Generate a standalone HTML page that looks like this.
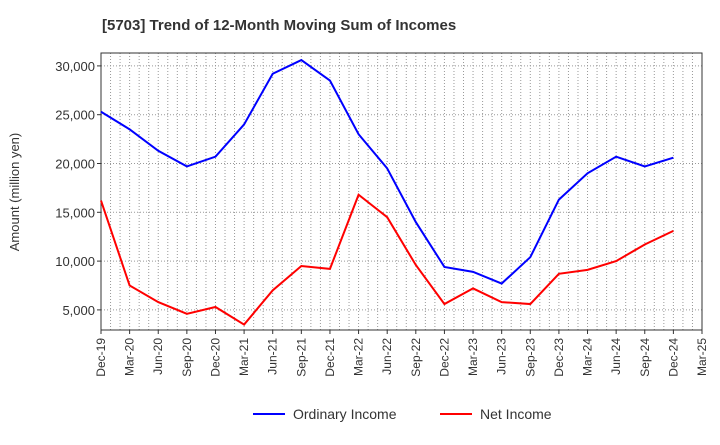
<!DOCTYPE html>
<html><head><meta charset="utf-8"><style>
body{margin:0;background:#fff;font-family:"Liberation Sans",sans-serif;}
</style></head><body>
<svg width="720" height="440" xmlns="http://www.w3.org/2000/svg" font-family="Liberation Sans, sans-serif">
<text x="102" y="30" font-size="15" font-weight="bold" fill="#333">[5703]  Trend of 12-Month Moving Sum of Incomes</text>
<text transform="translate(19,192) rotate(-90)" text-anchor="middle" font-size="13" fill="#333">Amount (million yen)</text>
<g id="grid"></g><g id="axes"></g><g id="series"></g>
<g>
<line x1="253" y1="414" x2="285" y2="414" stroke="#0000ff" stroke-width="2"/>
<text x="293" y="419" font-size="14" fill="#333">Ordinary Income</text>
<line x1="440" y1="414" x2="472" y2="414" stroke="#ff0000" stroke-width="2"/>
<text x="480" y="419" font-size="14" fill="#333">Net Income</text>
</g>
</svg>
<script>
const categories=["Dec-19","Mar-20","Jun-20","Sep-20","Dec-20","Mar-21","Jun-21","Sep-21","Dec-21","Mar-22","Jun-22","Sep-22","Dec-22","Mar-23","Jun-23","Sep-23","Dec-23","Mar-24","Jun-24","Sep-24","Dec-24","Mar-25"];
const ordinaryIncome=[25300,23500,21300,19700,20700,24000,29200,30600,28500,23000,19500,14000,9400,8900,7700,10400,16300,19000,20700,19700,20600];
const netIncome=[16200,7500,5800,4600,5300,3500,7000,9500,9200,16800,14500,9600,5600,7200,5800,5600,8700,9100,10000,11700,13100];
const yTicks=[5000,10000,15000,20000,25000,30000];
const NS="http://www.w3.org/2000/svg";
const L=101,R=702,T=53,B=330;
const qw=(R-L)/(categories.length-1);
const xq=i=>L+i*qw;
const y=v=>358.7-v*48.8/5000;
function mk(tag,attrs,parent){const e=document.createElementNS(NS,tag);for(const k in attrs)e.setAttribute(k,attrs[k]);parent.appendChild(e);return e;}
const grid=document.getElementById('grid'),axes=document.getElementById('axes'),ser=document.getElementById('series');
for(let m=1;m<(categories.length-1)*3;m++){const x=L+m*qw/3;
const g=mk('line',{x1:x,x2:x,y1:T,y2:B,stroke:'#999','stroke-dasharray':'1,2','stroke-width':1},grid);

}
yTicks.forEach(v=>{const g=mk('line',{x1:L,x2:R,y1:y(v),y2:y(v),stroke:'#999','stroke-dasharray':'1,2'},grid);


const t=mk('text',{x:L-6,y:y(v)+5,'text-anchor':'end','font-size':13,fill:'#333'},axes);t.textContent=v.toLocaleString('en-US');


mk('line',{x1:L-4,x2:L,y1:y(v),y2:y(v),stroke:'#333'},axes);});
const fr=mk('rect',{x:L,y:T,width:R-L,height:B-T,fill:'none',stroke:'#333'},axes);


categories.forEach((c,i)=>{const x=xq(i);mk('line',{x1:x,x2:x,y1:B,y2:B+4,stroke:'#333'},axes);
const t=mk('text',{transform:`translate(${x+4},${B+8}) rotate(-90)`,'text-anchor':'end','font-size':12,fill:'#333'},axes);t.textContent=c;

});
function line(data,color,name){const p=mk('polyline',{points:data.map((v,i)=>xq(i)+','+y(v)).join(' '),fill:'none',stroke:color,'stroke-width':2},ser);

}
line(ordinaryIncome,'#0000ff','ordinary-income-line');
line(netIncome,'#ff0000','net-income-line');
</script>
</body></html>
